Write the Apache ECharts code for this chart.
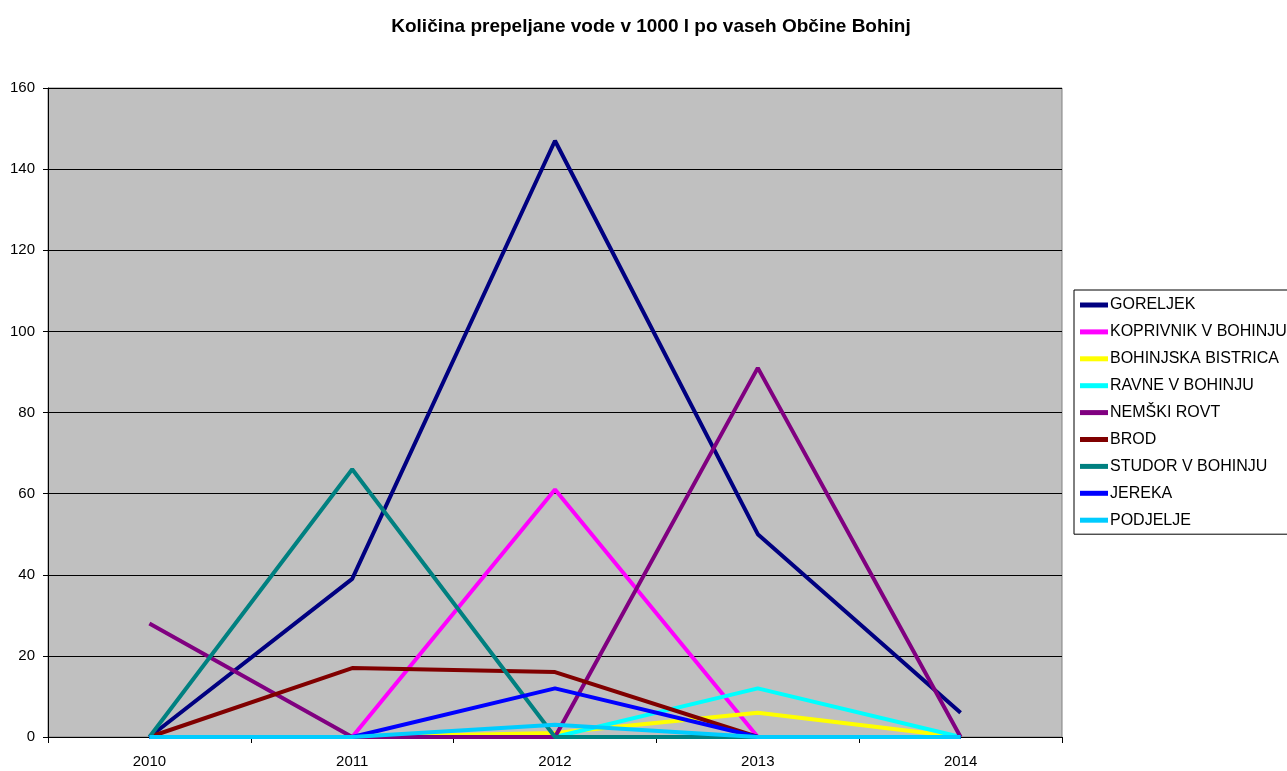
<!DOCTYPE html>
<html><head><meta charset="utf-8">
<script src="https://cdn.jsdelivr.net/npm/echarts@6/dist/echarts.min.js"></script>
<style>html,body{margin:0;padding:0;background:#fff}#c{width:1287px;height:771px}</style>
</head><body><div id="c"></div>
<script>
const years = ['2010','2011','2012','2013','2014'];
const goreljek   = [0, 39, 147, 50, 6];
const koprivnik  = [0, 0, 61, 0, 0];
const bistrica   = [0, 0, 1, 6, 0];
const ravne      = [0, 0, 0, 12, 0];
const nemski     = [28, 0, 0, 91, 0];
const brod       = [0, 17, 16, 0, 0];
const studor     = [0, 66, 0, 0, 0];
const jereka     = [0, 0, 12, 0, 0];
const podjelje   = [0, 0, 3, 0, 0];
const names  = ['GORELJEK','KOPRIVNIK V BOHINJU','BOHINJSKA BISTRICA','RAVNE V BOHINJU','NEMŠKI ROVT','BROD','STUDOR V BOHINJU','JEREKA','PODJELJE'];
const values = [goreljek, koprivnik, bistrica, ravne, nemski, brod, studor, jereka, podjelje];
const colors = ['#000080','#FF00FF','#FFFF00','#00FFFF','#800080','#800000','#008080','#0000FF','#00CCFF'];
const font = 'Liberation Sans, Arial, sans-serif';
const chart = echarts.init(document.getElementById('c'));
chart.setOption({
  animation: false,
  title: {text: 'Količina prepeljane vode v 1000 l po vaseh Občine Bohinj', left: 646, textAlign: 'center', top: 12,
    textStyle: {fontFamily: font, fontSize: 19, fontWeight: 'bold', color: '#000'}},
  grid: {left: 48, top: 88, width: 1014, height: 649, show: true, backgroundColor: '#C0C0C0', borderColor: '#808080', borderWidth: 1},
  legend: {orient: 'vertical', left: 1074, top: 290, width: 240, padding: [7, 40, 6, 6], borderColor: '#000', borderWidth: 1,
    icon: 'rect', itemWidth: 28, itemHeight: 5, itemGap: 10.9,
    textStyle: {fontFamily: font, fontSize: 16, color: '#000', padding: [0,0,0,-3]},
    data: names},
  xAxis: {type: 'category', data: years, boundaryGap: true,
    axisLine: {lineStyle: {color: '#000', width: 1}},
    axisTick: {show: true, length: 6, lineStyle: {color: '#000'}},
    axisLabel: {fontFamily: font, fontSize: 15, color: '#000', margin: 17}},
  yAxis: {type: 'value', min: 0, max: 160, interval: 20,
    axisLine: {show: true, lineStyle: {color: '#000', width: 1}},
    axisTick: {show: true, length: 5, lineStyle: {color: '#000'}},
    splitLine: {lineStyle: {color: '#000', width: 1}},
    axisLabel: {fontFamily: font, fontSize: 15, color: '#000', margin: 13}},
  series: names.map((n, i) => ({
    name: n, type: 'line', data: values[i], symbol: 'none',
    lineStyle: {color: colors[i], width: 4}, itemStyle: {color: colors[i]}
  }))
});
</script></body></html>
